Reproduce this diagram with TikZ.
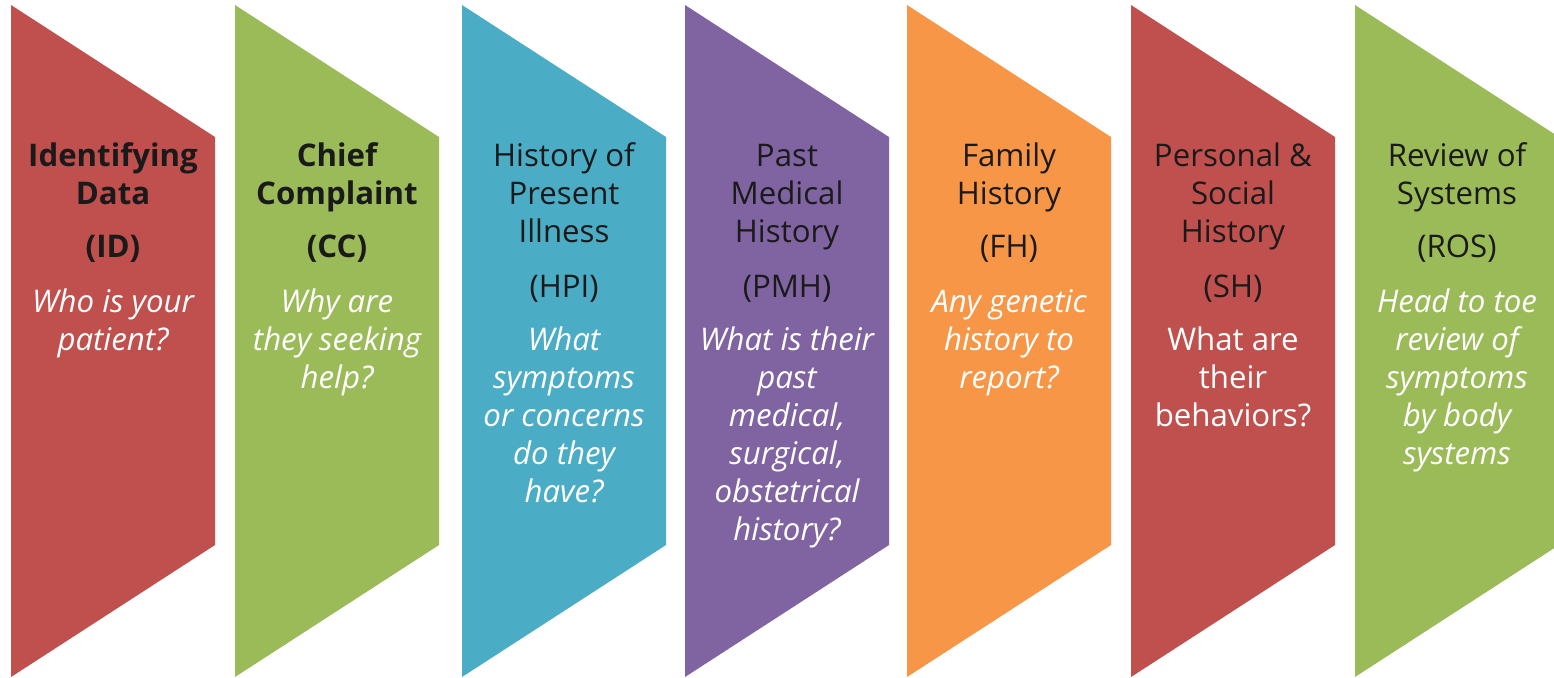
\documentclass[tikz,border=0pt]{standalone}
\usepackage{fontspec}
\setmainfont{Open Sans}
\definecolor{cred}{HTML}{C0504D}
\definecolor{cgreen}{HTML}{9BBB59}
\definecolor{cblue}{HTML}{4BACC6}
\definecolor{cpurple}{HTML}{8064A2}
\definecolor{corange}{HTML}{F79646}
\definecolor{ink}{HTML}{1A1A1A}
\tikzset{
  x=0.5pt, y=-0.5pt,
  txt/.style={inner sep=0pt, anchor=base, font=\fontsize{15.6}{18}\selectfont},
  ttl/.style={txt, text=ink},
  ttlb/.style={txt, text=ink, font=\fontsize{15.6}{18}\selectfont\bfseries},
  sub/.style={txt, text=white, font=\fontsize{15.6}{18}\selectfont\itshape},
  subup/.style={txt, text=white},
}
\newcommand\stagebox[3]{% name, left x, colour
  \fill[#3] (#2,5) -- ++(204,132) -- ++(0,408) -- ++(-204,132) -- cycle;
  \coordinate (#1) at (#2+102,0);
}
\newcommand\textblock[5]{% name, centre x, first baseline, style, lines
  \foreach \t [count=\i] in {#5} {
    \node[#4] (#1-\i) at (#2,#3+\i*38-38) {\t};
  }
}
\begin{document}
\begin{tikzpicture}
\useasboundingbox (0,0) rectangle (1554,677);
\clip (0,0) rectangle (1554,677);
\stagebox{s1}{11}{cred}
\stagebox{s2}{235}{cgreen}
\stagebox{s3}{462}{cblue}
\stagebox{s4}{685}{cpurple}
\stagebox{s5}{907}{corange}
\stagebox{s6}{1131}{cred}
\stagebox{s7}{1355}{cgreen}
% 1 ID
\textblock{idt}{113}{166}{ttlb}{Identifying,Data}
\node[ttlb] (ida) at (113,257) {(ID)};
\textblock{ids}{113}{312}{sub}{Who is your,patient?}
% 2 CC
\textblock{cct}{337}{166}{ttlb}{Chief,Complaint}
\node[ttlb] (cca) at (337,257) {(CC)};
\textblock{ccs}{337}{312}{sub}{Why are,they seeking,help?}
% 3 HPI
\textblock{hpit}{564}{166}{ttl}{History of,Present,Illness}
\node[ttl] (hpia) at (564,297) {(HPI)};
\textblock{hpis}{564}{350}{sub}{What,symptoms,or concerns,do they,have?}
% 4 PMH
\textblock{pmht}{787}{166}{ttl}{Past,Medical,History}
\node[ttl] (pmha) at (787,297) {(PMH)};
\textblock{pmhs}{787}{350}{sub}{What is their,past,{medical,},{surgical,},obstetrical,history?}
% 5 FH
\textblock{fht}{1009}{166}{ttl}{Family,History}
\node[ttl] (fha) at (1009,257) {(FH)};
\textblock{fhs}{1009}{312}{sub}{Any genetic,history to,report?}
% 6 SH
\textblock{sht}{1233}{166}{ttl}{Personal \&,Social,History}
\node[ttl] (sha) at (1233,297) {(SH)};
\textblock{shs}{1233}{350}{subup}{What are,their,behaviors?}
% 7 ROS
\textblock{rost}{1457}{166}{ttl}{Review of,Systems}
\node[ttl] (rosa) at (1457,257) {(ROS)};
\textblock{ross}{1457}{312}{sub}{Head to toe,review of,symptoms,by body,systems}
\end{tikzpicture}
\end{document}
